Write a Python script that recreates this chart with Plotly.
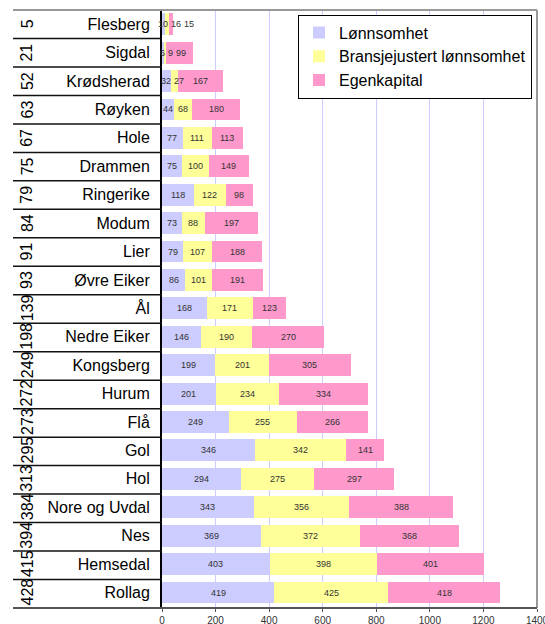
import plotly.graph_objects as go

# Municipalities, ranked (rank shown in the left column)
kommuner = ["Flesberg", "Sigdal", "Krødsherad", "Røyken", "Hole", "Drammen",
            "Ringerike", "Modum", "Lier", "Øvre Eiker", "Ål", "Nedre Eiker",
            "Kongsberg", "Hurum", "Flå", "Gol", "Hol", "Nore og Uvdal", "Nes",
            "Hemsedal", "Rollag"]
rangering = [5, 21, 52, 63, 67, 75, 79, 84, 91, 93, 139, 198, 249, 272, 273,
             295, 313, 384, 394, 415, 428]

lonnsomhet = [10, 6, 32, 44, 77, 75, 118, 73, 79, 86, 168, 146, 199, 201, 249,
              346, 294, 343, 369, 403, 419]
bransjejustert = [16, 9, 27, 68, 111, 100, 122, 88, 107, 101, 171, 190, 201,
                  234, 255, 342, 275, 356, 372, 398, 425]
egenkapital = [15, 99, 167, 180, 113, 149, 98, 197, 188, 191, 123, 270, 305,
               334, 266, 141, 297, 388, 368, 401, 418]

serier = [
    ("Lønnsomhet", lonnsomhet, "#CCCCFF"),
    ("Bransjejustert lønnsomhet", bransjejustert, "#FFFF99"),
    ("Egenkapital", egenkapital, "#FF99CC"),
]

x_ticks = [0, 200, 400, 600, 800, 1000, 1200, 1400]

FONT = "Arial, Liberation Sans, sans-serif"
W, H = 545, 624
M_L, M_R, M_T, M_B = 162, 8, 10, 16
PLOT_W = W - M_L - M_R
PLOT_H = H - M_T - M_B
X_MAX = 1400
UNITS_PER_PX = X_MAX / PLOT_W

fig = go.Figure()
for i, (navn, verdier, farge) in enumerate(serier):
    fig.add_trace(go.Bar(
        y=kommuner, x=verdier, name=navn, orientation="h",
        marker=dict(color=farge, line=dict(width=0)),
        hoverinfo="x+name",
    ))

# Value labels centred on each segment; nudged right when they would collide
annotations = []
for r, kommune in enumerate(kommuner):
    start = 0
    prev_right = None
    for navn, verdier, farge in serier:
        v = verdier[r]
        mid = start + v / 2
        txt = str(v)
        half = len(txt) * 5.0 / 2 * UNITS_PER_PX
        if prev_right is not None and mid - half < prev_right:
            mid = prev_right + half
        prev_right = mid + half + 3.0 * UNITS_PER_PX
        annotations.append(dict(
            x=mid, y=kommune, xref="x", yref="y", text=txt, showarrow=False,
            font=dict(family=FONT, size=9, color="#333333"),
            xanchor="center", yanchor="middle",
        ))
        start += v

# Rank column, rotated
rank_x = (27 - M_L) / PLOT_W
for kommune, rang in zip(kommuner, rangering):
    annotations.append(dict(
        x=rank_x, y=kommune, xref="paper", yref="y", text=str(rang),
        showarrow=False, textangle=-90,
        font=dict(family=FONT, size=16, color="#000000"),
        xanchor="center", yanchor="middle",
    ))

# Table rules on the left and the outer frame
table_x0 = (13 - M_L) / PLOT_W
n = len(kommuner)
shapes = []
for k in range(1, n):
    yy = 1 - k / n
    shapes.append(dict(type="line", xref="paper", yref="paper",
                       x0=table_x0, x1=0, y0=yy, y1=yy,
                       line=dict(color="#111111", width=1.5)))
shapes.append(dict(type="line", xref="paper", yref="paper", x0=table_x0, x1=1,
                   y0=1, y1=1, line=dict(color="#999999", width=2)))
shapes.append(dict(type="line", xref="paper", yref="paper", x0=1, x1=1,
                   y0=0, y1=1, line=dict(color="#999999", width=2)))
shapes.append(dict(type="line", xref="paper", yref="paper", x0=table_x0, x1=1,
                   y0=0, y1=0, line=dict(color="#555555", width=2)))

fig.update_layout(
    width=W, height=H,
    margin=dict(l=M_L, r=M_R, t=M_T, b=M_B, pad=0, autoexpand=False),
    barmode="stack", bargap=0.23,
    plot_bgcolor="white", paper_bgcolor="white",
    font=dict(family=FONT, color="#000000"),
    xaxis=dict(
        range=[0, X_MAX], tickvals=x_ticks, ticktext=[str(t) for t in x_ticks],
        showgrid=True, gridcolor="#CCCCFF", gridwidth=1, zeroline=False,
        showline=False, ticks="outside", ticklen=3, tickwidth=1,
        tickcolor="#555555", ticklabelstandoff=0,
        ticklabeloverflow="allow", automargin=False,
        tickfont=dict(family=FONT, size=10, color="#333333"),
        fixedrange=True,
    ),
    yaxis=dict(
        categoryorder="array", categoryarray=kommuner, autorange="reversed",
        showgrid=False, zeroline=False, showline=True, linecolor="#000000",
        linewidth=2, ticks="", ticklabelstandoff=7, automargin=False,
        tickfont=dict(family=FONT, size=16, color="#000000"),
        fixedrange=True,
    ),
    legend=dict(
        x=(298 - M_L) / PLOT_W, y=1 - 4.5 / PLOT_H,
        xanchor="left", yanchor="top", traceorder="normal",
        bgcolor="white", bordercolor="#000000", borderwidth=1,
        font=dict(family=FONT, size=16, color="#000000"),
    ),
    annotations=annotations,
    shapes=shapes,
)

fig.write_html("out.html")
